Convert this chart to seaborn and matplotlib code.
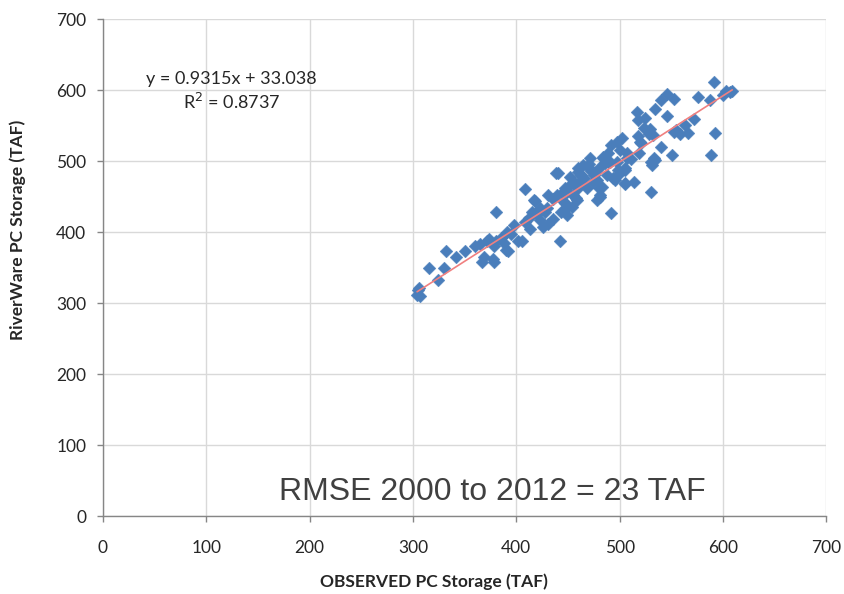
import matplotlib
matplotlib.use("Agg")
import matplotlib.pyplot as plt
import seaborn as sns
import pandas as pd
import numpy as np

# Observed (x) vs RiverWare (y) PC storage, TAF
observed = [
    304, 305, 306, 307, 316, 324, 330, 332, 350, 365, 369, 367, 374, 378, 377, 380, 378,
    391, 392, 390, 402, 406, 380,
    408, 415, 413, 408, 423, 426, 431, 436, 430, 423, 442, 446, 449, 447, 454, 459, 478,
    492, 439, 431, 418, 440,
    438, 417, 450, 452, 460, 465, 471, 470, 463, 476, 481, 484, 489, 492, 497, 489, 478,
    483, 460, 455, 481, 468, 449,
    484, 491, 507, 505, 494, 505, 447, 460, 463, 475, 480, 481, 446, 458,
    551, 588, 533, 530, 534, 531, 530, 505, 505, 496, 500, 507, 519, 521, 497,
    591, 576, 587, 600, 546, 540, 553, 534, 546, 517, 518, 525, 524, 572, 563, 555, 558,
    553, 592, 502, 518, 528, 532, 520, 603, 607, 529, 443,
    470, 474, 486, 456, 466, 472, 498, 511, 488, 462, 444, 436, 428, 420, 412, 398,
    395, 385, 388, 372, 360, 342, 500, 514, 540, 566, 609,
]
riverware = [
    312, 318, 322, 310, 349, 333, 350, 373, 373, 384, 365, 358, 390, 358, 363, 387, 381,
    401, 373, 375, 388, 387, 428,
    461, 429, 405, 415, 417, 408, 412, 419, 434, 434, 387, 431, 424, 441, 436, 445, 445,
    427, 452, 452, 444, 484,
    483, 445, 464, 478, 491, 494, 504, 490, 480, 483, 492, 504, 511, 523, 527, 499, 473,
    464, 462, 452, 452, 462, 457,
    506, 499, 504, 490, 476, 469, 462, 485, 469, 480, 462, 450, 443, 448,
    508, 508, 504, 499, 501, 494, 457, 488, 468, 473, 516, 511, 511, 525, 499,
    611, 590, 586, 593, 594, 586, 587, 573, 564, 569, 558, 561, 547, 560, 551, 544, 538,
    541, 540, 532, 536, 538, 537, 527, 598, 597, 545, 429,
    496, 471, 497, 470, 476, 486, 488, 503, 481, 472, 455, 447, 428, 426, 420, 410,
    398, 392, 385, 387, 380, 365, 484, 470, 520, 540, 599,
]
slope = 0.9315
intercept = 33.038
x_ticks = [0, 100, 200, 300, 400, 500, 600, 700]
y_ticks = [0, 100, 200, 300, 400, 500, 600, 700]

df = pd.DataFrame({"observed": observed, "riverware": riverware})

sns.set_theme(style="white")
plt.rcParams["font.family"] = ["Lato", "DejaVu Sans"]

fig = plt.figure(figsize=(8.44, 5.94), dpi=100)
ax = fig.add_axes([0.122, 0.1305, 0.857, 0.8375])

sns.scatterplot(data=df, x="observed", y="riverware", marker="D", s=42,
                color="#4a7ebb", edgecolor="#4a7ebb", linewidth=0.3, ax=ax, zorder=3)

xs = np.array([min(observed), max(observed)])
ax.plot(xs, slope * xs + intercept, color="#f08080", lw=1.2, zorder=4)

ax.set_xlim(0, 700)
ax.set_ylim(0, 700)
ax.set_xticks(x_ticks)
ax.set_yticks(y_ticks)
ax.grid(True, color="#d9d9d9", lw=1)
ax.set_axisbelow(True)
for s in ["top", "right"]:
    ax.spines[s].set_visible(False)
for s in ["left", "bottom"]:
    ax.spines[s].set_color("#868686")
    ax.spines[s].set_linewidth(1)
ax.tick_params(axis="both", which="major", length=4, width=1, color="#868686",
               labelsize=12.5, labelcolor="#262626", direction="out",
               bottom=True, left=True)
ax.tick_params(axis="x", pad=13)
ax.tick_params(axis="y", pad=8)

ax.set_xlabel("OBSERVED PC Storage (TAF)", fontsize=12.5, fontweight="bold",
              color="#262626", va="center", ha="center")
ax.xaxis.set_label_coords(0.458, -0.132)
ax.set_ylabel("RiverWare PC Storage (TAF)", fontsize=12.5, fontweight="bold",
              color="#262626", va="center", ha="center")
ax.yaxis.set_label_coords(-0.1176, 0.576)

ax.text(0.178, 0.879, f"y = {slope}x + {intercept}", transform=ax.transAxes,
        ha="center", va="center", fontsize=13, color="#262626")
ax.text(0.178, 0.833, "R$^2$ = 0.8737", transform=ax.transAxes,
        ha="center", va="center", fontsize=13, color="#262626")

ax.text(0.538, 0.049, "RMSE 2000 to 2012 = 23 TAF", transform=ax.transAxes,
        ha="center", va="center", fontsize=23, color="#404040",
        family=["Liberation Sans", "DejaVu Sans"])

fig.savefig("out.png", dpi=100)
